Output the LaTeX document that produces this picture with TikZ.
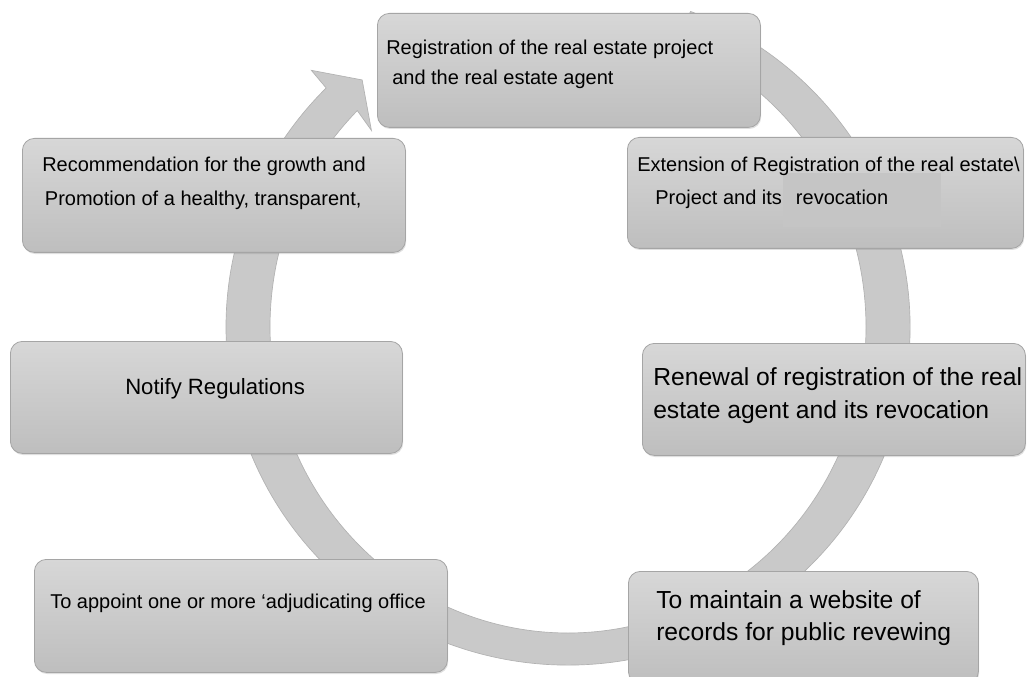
\documentclass[tikz,border=0pt]{standalone}
\usepackage{fontspec}
\setmainfont{Liberation Sans}
\usetikzlibrary{shadows}
\definecolor{RingGray}{RGB}{201,201,201}
\definecolor{RingEdge}{RGB}{178,178,178}
\definecolor{BoxTop}{RGB}{215,215,215}
\definecolor{BoxBottom}{RGB}{190,190,190}
\definecolor{BoxEdge}{RGB}{165,165,165}
\definecolor{PatchGray}{RGB}{197,197,197}
\tikzset{
  cyclebox/.style 2 args={draw=BoxEdge, line width=0.6pt, rounded corners=9pt,
    top color=BoxTop, bottom color=BoxBottom, anchor=north west, inner sep=0pt,
    minimum width=#1*0.75pt, minimum height=#2*0.75pt,
    drop shadow={shadow xshift=0.6pt, shadow yshift=-1.2pt, opacity=0.25}},
  ringarrow/.style={fill=RingGray, draw=RingEdge, line width=0.5pt},
  boxtext/.style={font=\fontsize{15pt}{#1}\selectfont, align=left,
    anchor=base west, inner sep=0pt},
  boxtext/.default=22.5pt,
  bigtext/.style={font=\fontsize{18.5pt}{#1}\selectfont, align=left,
    anchor=base west, inner sep=0pt},
  bigtext/.default=24.75pt,
}
\begin{document}
\begin{tikzpicture}[x=0.75pt, y=-0.75pt]
  \useasboundingbox[fill=white] (0,0) rectangle (1027,677);
  % ring arrow behind the boxes
  \begin{scope}[shift={(568,327)}, x=0.75pt, y=0.75pt]
    \path[ringarrow] (69:342 and 338)
      arc[start angle=69, end angle=-225, x radius=342, y radius=338]
      -- (135:363) -- (129.8:321.6) -- (135:278) -- (-225:298 and 306)
      arc[start angle=-225, end angle=69, x radius=298, y radius=306] -- cycle;
  \end{scope}
  % boxes
  \node[cyclebox={383}{114}] (b1) at (377,13) {};
  \node[cyclebox={383}{114}] (b2) at (22,138) {};
  \node[cyclebox={396}{111}] (b3) at (627,137) {};
  \node[cyclebox={392}{112}] (b4) at (10,341) {};
  \node[cyclebox={383}{112}] (b5) at (642,343) {};
  \node[cyclebox={413}{113}] (b6) at (34,559) {};
  \node[cyclebox={350}{112}] (b7) at (628,571) {};
  \fill[PatchGray] (783,173) rectangle (941,227);
  % texts (base = last line)
  \node[boxtext] (t1) at (386,85) {Registration of the real estate project\\\hspace*{4.5pt}and the real estate agent};
  \node[boxtext=25.5pt] (t2) at (42,206) {Recommendation for the growth and\\\hspace*{2pt}Promotion of a healthy, transparent,};
  \node[boxtext=24.75pt] (t3) at (637,205) {Extension of Registration of the real estate\textbackslash\\\hspace*{13.5pt}Project and its\hspace*{10.5pt}revocation};
  \node[boxtext, font=\fontsize{16.6pt}{20pt}\selectfont] (t4) at (125,394) {Notify Regulations};
  \node[bigtext] (t5) at (653,418) {Renewal of registration of the real\\estate agent and its revocation};
  \node[boxtext] (t6) at (50,608) {To appoint one or more ‘adjudicating office};
  \node[bigtext=24pt] (t7) at (656,640) {To maintain a website of\\records for public revewing};
\end{tikzpicture}
\end{document}
